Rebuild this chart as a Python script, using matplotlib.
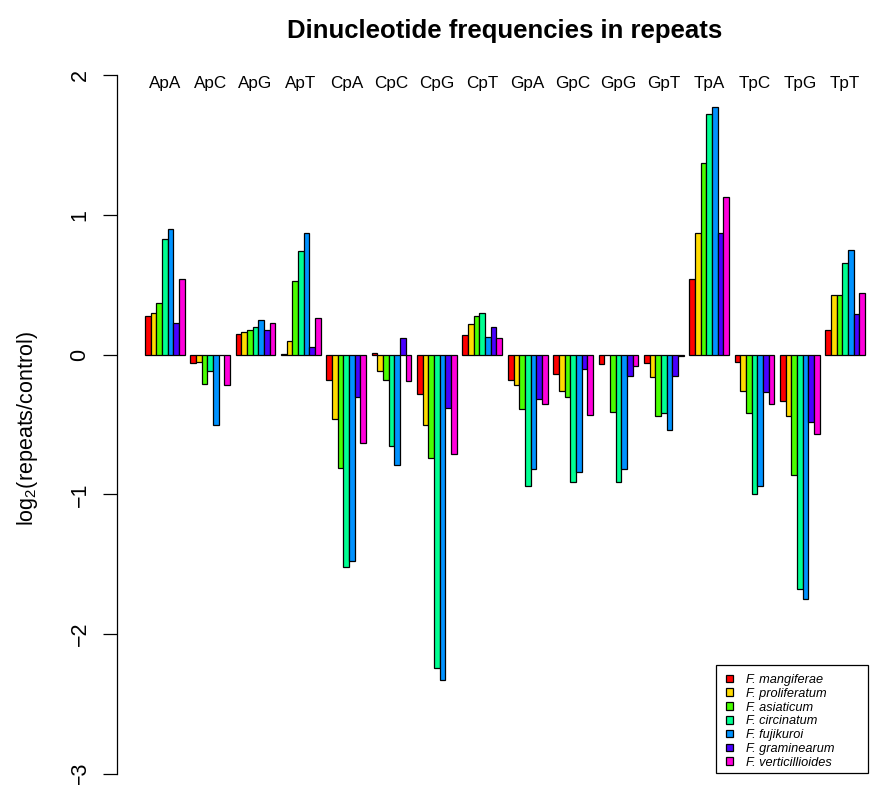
import matplotlib
matplotlib.use("Agg")
import matplotlib.pyplot as plt
import matplotlib.transforms as mtransforms
from matplotlib.patches import Rectangle
import numpy as np

plt.rcParams['font.family'] = ['Liberation Sans', 'DejaVu Sans']
plt.rcParams['mathtext.fontset'] = 'custom'
plt.rcParams['mathtext.rm'] = 'Liberation Sans'
plt.rcParams['mathtext.it'] = 'Liberation Sans:italic'

dinucs = ['ApA', 'ApC', 'ApG', 'ApT', 'CpA', 'CpC', 'CpG', 'CpT',
          'GpA', 'GpC', 'GpG', 'GpT', 'TpA', 'TpC', 'TpG', 'TpT']
species = ['F. mangiferae', 'F. proliferatum', 'F. asiaticum', 'F. circinatum',
           'F. fujikuroi', 'F. graminearum', 'F. verticillioides']

# log2(repeats/control), one list per species, in dinucleotide order
mangiferae = [0.28, -0.06, 0.15, 0.005, -0.18, 0.012, -0.28, 0.14,
              -0.18, -0.14, -0.07, -0.06, 0.54, -0.05, -0.33, 0.18]
proliferatum = [0.30, -0.05, 0.16, 0.10, -0.46, -0.12, -0.50, 0.22,
                -0.22, -0.26, -0.005, -0.16, 0.87, -0.26, -0.44, 0.43]
asiaticum = [0.37, -0.21, 0.18, 0.53, -0.81, -0.18, -0.74, 0.28,
             -0.39, -0.30, -0.41, -0.44, 1.37, -0.42, -0.86, 0.43]
circinatum = [0.83, -0.12, 0.20, 0.74, -1.52, -0.65, -2.24, 0.30,
              -0.94, -0.91, -0.91, -0.42, 1.72, -1.00, -1.68, 0.66]
fujikuroi = [0.90, -0.50, 0.25, 0.87, -1.48, -0.79, -2.33, 0.13,
             -0.82, -0.84, -0.82, -0.54, 1.77, -0.94, -1.75, 0.75]
graminearum = [0.23, -0.005, 0.18, 0.055, -0.30, 0.12, -0.38, 0.20,
               -0.32, -0.10, -0.15, -0.15, 0.87, -0.27, -0.48, 0.29]
verticillioides = [0.54, -0.22, 0.23, 0.26, -0.63, -0.19, -0.71, 0.12,
                   -0.35, -0.43, -0.08, -0.01, 1.13, -0.35, -0.57, 0.44]

series = [mangiferae, proliferatum, asiaticum, circinatum,
          fujikuroi, graminearum, verticillioides]
colors = ['#FF0000', '#FFDB00', '#49FF00', '#00FF92', '#0092FF', '#4900FF', '#FF00DB']

W, H = 871, 785
fig = plt.figure(figsize=(W / 100, H / 100), dpi=100)

# axes placed so that the data area matches the R barplot region
ax = fig.add_axes([117 / W, 1 - 801.7 / H, (W - 117) / W, (801.7 - 47.4) / H])
ax.set_xlim(-3.94, 129.06)
ax.set_ylim(-3.2, 2.2)

nser = len(series)
group_left = 1 + np.arange(len(dinucs)) * (nser + 1)
for i, (vals, col, name) in enumerate(zip(series, colors, species)):
    ax.bar(group_left + i, vals, width=1.0, align='edge', color=col,
           edgecolor='black', linewidth=0.9, label=name)

for sp in ['top', 'right', 'bottom']:
    ax.spines[sp].set_visible(False)
ax.spines['left'].set_bounds(-3, 2)
ax.spines['left'].set_linewidth(0.9)
ax.set_xticks([])
ax.set_yticks([-3, -2, -1, 0, 1, 2])
ax.set_yticklabels(['\u22123', '\u22122', '\u22121', '0', '1', '2'],
                   rotation=90, va='center', fontsize=15.5)
ax.tick_params(axis='y', length=10, width=0.9, pad=9)

# dinucleotide names along the top
trans = mtransforms.blended_transform_factory(ax.transData, fig.transFigure)
for g, lab in zip(group_left, dinucs):
    ax.text(g + nser / 2, 1 - 88 / H, lab, transform=trans, ha='center',
            va='baseline', fontsize=12.3)

fig.text(505 / W, 1 - 38 / H, 'Dinucleotide frequencies in repeats',
         ha='center', va='baseline', fontsize=18.5, fontweight='bold')
fig.text(28 / W, 1 - 429 / H, r'log$_2$(repeats/control)', rotation=90,
         ha='center', va='center', fontsize=15.5)

# legend without its own frame; R-style box drawn separately
leg = ax.legend(loc='upper left', bbox_to_anchor=(726 / W, 1 - 674 / H),
                bbox_transform=fig.transFigure, fontsize=9.2, frameon=False,
                labelspacing=0.14, handlelength=0.55, handleheight=0.55,
                handletextpad=1.05, borderpad=0, borderaxespad=0)
for t in leg.get_texts():
    t.set_fontstyle('italic')
fig.patches.append(Rectangle((716 / W, 1 - 773 / H), 152 / W, 108 / H,
                             transform=fig.transFigure, fill=False,
                             edgecolor='black', linewidth=0.9))

fig.savefig('out.png', dpi=100)
